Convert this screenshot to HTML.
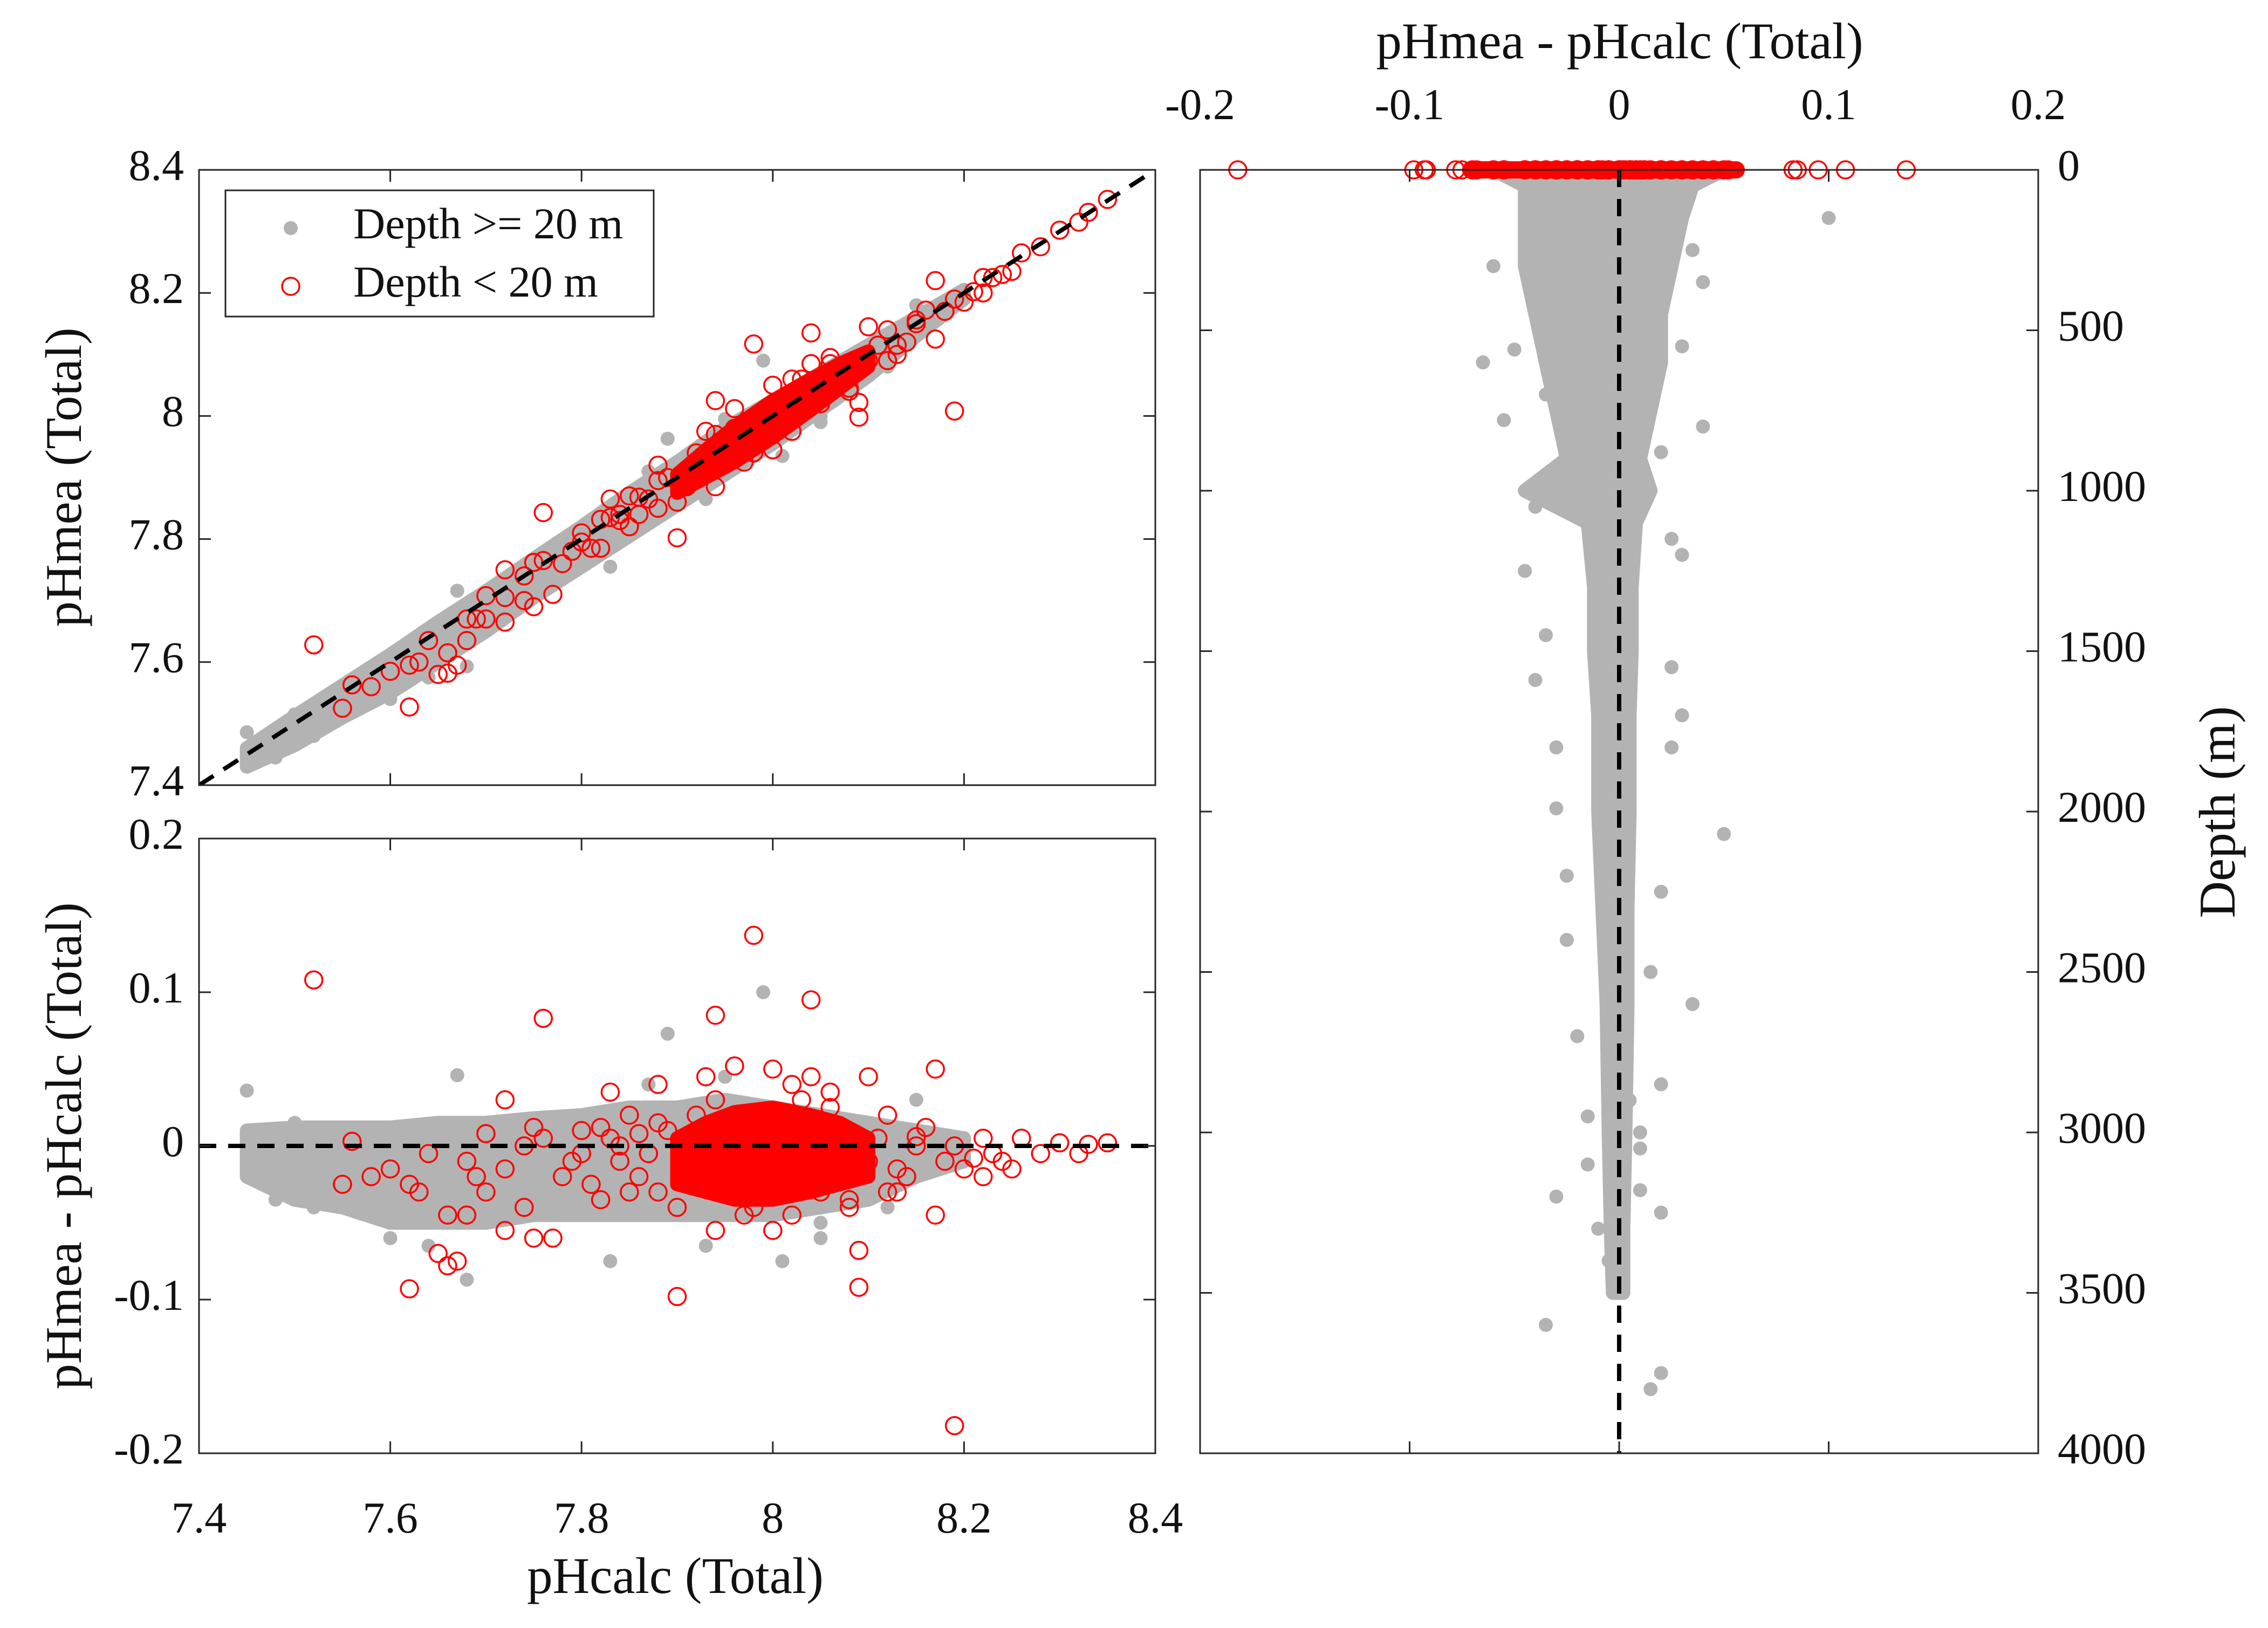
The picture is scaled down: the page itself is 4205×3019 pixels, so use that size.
<!DOCTYPE html>
<html><head><meta charset="utf-8">
<style>
html,body{margin:0;padding:0;background:#fff;}
svg{display:block;}
text{font-family:"Liberation Serif",serif;fill:#111;}
</style></head>
<body>
<svg id="chart" width="4205" height="3019" viewBox="0 0 4205 3019" xmlns="http://www.w3.org/2000/svg">
<rect width="4205" height="3019" fill="#fff"/>
<g id="plots"></g>
<g id="frames"></g>
</svg>
<script>
// ---- data ----
const grayCloudX = [7.45,7.5,7.55,7.6,7.65,7.7,7.75,7.8,7.85,7.9,7.95,8.0,8.05,8.1,8.15,8.2];
const grayCloudLo = [-0.02,-0.035,-0.04,-0.05,-0.05,-0.05,-0.045,-0.045,-0.045,-0.045,-0.045,-0.045,-0.04,-0.035,-0.02,-0.01];
const grayCloudHi = [0.01,0.012,0.012,0.012,0.015,0.015,0.018,0.02,0.025,0.025,0.03,0.025,0.02,0.015,0.01,0.005];
const redCoreX = [7.9,7.93,7.96,8.0,8.04,8.07,8.1];
const redCoreLo = [-0.025,-0.03,-0.035,-0.035,-0.03,-0.025,-0.02];
const redCoreHi = [0.005,0.015,0.022,0.025,0.02,0.015,0.005];
const grayCalc = [7.45,7.67,7.87,7.89,7.99,8.01,7.83,7.68,7.5,7.47,7.48,7.52,7.93,8.05,7.95,8.15,8.05,7.6,7.64,8.12];
const grayRes = [0.036,0.046,0.04,0.073,0.1,-0.075,-0.075,-0.087,0.015,-0.015,-0.035,-0.04,-0.065,-0.06,0.045,0.03,-0.05,-0.06,-0.065,-0.04];
const redCalc = [7.52,7.76,7.94,7.98,8.04,7.62,7.9,8.09,8.19,8.09,7.65,7.67,7.66,7.75,7.77,7.72,7.68,8.17,8.17,8.1,8.04,8.0,7.96,7.83,7.88,7.93,8.06,8.02,7.72,7.56,7.55,7.58,7.6,7.62,7.64,7.66,7.7,7.74,7.78,7.82,7.86,7.9,7.92,7.94,7.97,8.0,8.05,8.08,8.12,8.14,8.16,8.2,8.22,8.24,8.26,8.28,8.3,8.33,8.35,8.32,7.8,7.84,7.88,7.76,7.7,7.68,8.12,8.18,7.96,8.03,7.75,7.85,8.1,8.22,8.25,
  7.72,7.74,7.79,7.81,7.83,7.85,7.87,7.89,7.91,7.84,7.86,7.8,7.92,7.88,7.82,8.11,8.13,8.15,8.19,8.21,8.23,8.13,8.15,8.08,8.06,7.98,7.94,8.02,7.69,7.63];
const redRes = [0.108,0.083,0.085,0.137,0.095,-0.093,-0.098,-0.092,-0.182,-0.068,-0.07,-0.075,-0.078,-0.06,-0.06,-0.055,-0.045,-0.045,0.05,0.045,0.045,0.05,0.052,0.035,0.04,0.045,0.035,0.04,0.03,0.003,-0.025,-0.02,-0.015,-0.025,-0.005,-0.045,-0.03,-0.04,-0.02,-0.035,-0.02,-0.04,-0.015,-0.055,-0.045,-0.055,-0.03,-0.035,-0.03,-0.02,0.012,-0.015,0.005,-0.01,0.005,-0.005,0.002,0.001,0.002,-0.005,0.01,0.0,0.015,0.005,0.008,-0.01,0.02,-0.01,0.02,0.03,0.012,0.02,-0.01,-0.02,-0.015,
  -0.015,0.0,-0.01,-0.025,0.005,-0.03,-0.005,0.01,-0.025,-0.01,0.008,-0.005,0.02,-0.03,0.012,0.005,-0.015,0.0,0.0,-0.008,-0.005,-0.03,0.006,-0.04,0.025,-0.04,0.03,-0.045,-0.02,-0.03];
const depthCloud = [0,50,150,300,450,600,750,900,1000,1100,1300,1500,1700,2000,2300,2600,3000,3300,3500];
const depthLo = [-0.06,-0.045,-0.045,-0.045,-0.04,-0.035,-0.03,-0.025,-0.045,-0.015,-0.012,-0.012,-0.01,-0.01,-0.008,-0.006,-0.005,-0.004,-0.003];
const depthHi = [0.05,0.035,0.03,0.025,0.02,0.02,0.015,0.01,0.015,0.008,0.006,0.006,0.005,0.005,0.004,0.004,0.003,0.002,0.002];
const grayDepthRes = [0.1,-0.04,0.035,-0.06,0.04,0.04,-0.035,0.02,-0.055,-0.065,-0.05,0.03,-0.04,0.025,-0.045,0.03,-0.035,0.025,-0.04,0.03,-0.03,0.025,-0.03,0.05,-0.025,0.02,-0.025,0.015,0.035,-0.02,0.02,-0.015,0.01,-0.03,0.01,0.02,-0.01,-0.035,0.02,0.015,0,-0.005,0.01,-0.015,0.005];
const grayDepth = [150,200,250,300,350,800,700,880,780,600,560,550,1050,1150,1250,1200,1450,1550,1590,1700,1800,1800,1990,2070,2200,2250,2400,2500,2600,2700,2850,2950,3000,3200,3180,3250,3300,3600,3750,3800,3450,3400,3050,3100,2900];
const redSurfLo = [-0.075];
const redSurfHi = [0.06];
const ticksPH = [7.4,7.6,7.8,8,8.2,8.4];
const ticksRes = [-0.2,-0.1,0,0.1,0.2];
const ticksDepth = [0,500,1000,1500,2000,2500,3000,3500,4000];

// ---- axes ----
const L0=369, L1=2142, T0=315, T1=1456, B0=1555, B1=2695, R0=2225, R1=3779;
const xL = v => L0 + (v-7.4)/1.0*(L1-L0);
const yT = v => T1 - (v-7.4)/1.0*(T1-T0);
const yB = r => B1 - (r+0.2)/0.4*(B1-B0);
const xR = r => R0 + (r+0.2)/0.4*(R1-R0);
const yR = d => T0 + d/4000*(B1-T0);

const NS="http://www.w3.org/2000/svg";
const plots=document.getElementById('plots');
const frames=document.getElementById('frames');
function mk(tag,attrs,parent){const e=document.createElementNS(NS,tag);for(const k in attrs)e.setAttribute(k,attrs[k]);(parent||plots).appendChild(e);return e;}
const GR="#b3b3b3", RD="#ff0000";

const defs=mk('defs',{});
[['cT',L0,T0,L1-L0,T1-T0],['cB',L0,B0,L1-L0,B1-B0]].forEach(c=>{
  const cp=mk('clipPath',{id:c[0]},defs);mk('rect',{x:c[1],y:c[2],width:c[3],height:c[4]},cp);
});
const gT=mk('g',{'clip-path':'url(#cT)'});  
const gB=mk('g',{'clip-path':'url(#cB)'});  
const gR=mk('g',{});  

function envelope(xs,lo,hi,fx,fy,yfromx,color,g,name){
  let pts=[];
  for(let i=0;i<xs.length;i++)pts.push([fx(xs[i]),fy(yfromx(xs[i],hi[i]))]);
  for(let i=xs.length-1;i>=0;i--)pts.push([fx(xs[i]),fy(yfromx(xs[i],lo[i]))]);
  const p=mk('polygon',{points:pts.map(p=>p.join(',')).join(' '),fill:color,stroke:color,'stroke-width':26,'stroke-linejoin':'round'},g);
  
  
}
envelope(grayCloudX,grayCloudLo,grayCloudHi,xL,yT,(x,r)=>x+r,GR,gT,'gray-cloud-top');
envelope(grayCloudX,grayCloudLo,grayCloudHi,xL,yB,(x,r)=>r,GR,gB,'gray-cloud-residual');
for(let i=0;i<grayCalc.length;i++){
  const a=mk('circle',{cx:xL(grayCalc[i]),cy:yT(grayCalc[i]+grayRes[i]),r:13,fill:GR},gT);
   
  const b=mk('circle',{cx:xL(grayCalc[i]),cy:yB(grayRes[i]),r:13,fill:GR},gB);
   
}
(function(){
  let pts=[];
  for(let i=0;i<depthCloud.length;i++)pts.push([xR(depthHi[i]),yR(depthCloud[i])]);
  for(let i=depthCloud.length-1;i>=0;i--)pts.push([xR(depthLo[i]),yR(depthCloud[i])]);
  const p=mk('polygon',{points:pts.map(p=>p.join(',')).join(' '),fill:GR,stroke:GR,'stroke-width':26,'stroke-linejoin':'round'},gR);
   
})();
for(let i=0;i<grayDepth.length;i++){
  const c=mk('circle',{cx:xR(grayDepthRes[i]),cy:yR(grayDepth[i]),r:13,fill:GR},gR);
   
}
envelope(redCoreX,redCoreLo,redCoreHi,xL,yT,(x,r)=>x+r,RD,gT,'red-core-top');
envelope(redCoreX,redCoreLo,redCoreHi,xL,yB,(x,r)=>r,RD,gB,'red-core-residual');
for(let i=0;i<redCalc.length;i++){
  const a=mk('circle',{cx:xL(redCalc[i]),cy:yT(redCalc[i]+redRes[i]),r:16,fill:'none',stroke:RD,'stroke-width':3.5},gT);
   
  const b=mk('circle',{cx:xL(redCalc[i]),cy:yB(redRes[i]),r:16,fill:'none',stroke:RD,'stroke-width':3.5},gB);
   
}
const rs=mk('rect',{x:xR(redSurfLo[0]),y:yR(0)-16,width:xR(redSurfHi[0])-xR(redSurfLo[0]),height:32,fill:RD,rx:16},gR);
 
for(let i=0;i<redRes.length;i++){
  const c=mk('circle',{cx:xR(redRes[i]),cy:yR(0),r:16,fill:'none',stroke:RD,'stroke-width':3.5},gR);
   
}
const d1=mk('line',{x1:xL(7.4),y1:yT(7.4),x2:xL(8.4),y2:yT(8.4),stroke:'#000','stroke-width':8,'stroke-dasharray':'32 22'},gT);
 
const d2=mk('line',{x1:L0,y1:yB(0),x2:L1,y2:yB(0),stroke:'#000','stroke-width':8,'stroke-dasharray':'32 22'},gB);
 
const d3=mk('line',{x1:xR(0),y1:T0,x2:xR(0),y2:B1,stroke:'#000','stroke-width':8,'stroke-dasharray':'32 22'},gR);
 

function box(x0,y0,x1,y1,name){const r=mk('rect',{x:x0,y:y0,width:x1-x0,height:y1-y0,fill:'none',stroke:'#262626','stroke-width':3},frames);}
box(L0,T0,L1,T1,'top-axes-frame');box(L0,B0,L1,B1,'bottom-axes-frame');box(R0,T0,R1,B1,'right-axes-frame');
function ln(x1,y1,x2,y2){mk('line',{x1,y1,x2,y2,stroke:'#262626','stroke-width':3},frames);}
function txt(s,x,y,anchor,size,rot,name){const t=mk('text',{x,y,'text-anchor':anchor,'font-size':size,'dominant-baseline':'middle'},frames);if(rot)t.setAttribute('transform',`rotate(-90 ${x} ${y})`);t.textContent=s;return t;}
const TL=22, FS=82;
ticksPH.forEach(v=>{
  ln(xL(v),T1,xL(v),T1-TL);ln(xL(v),T0,xL(v),T0+TL);ln(xL(v),B1,xL(v),B1-TL);ln(xL(v),B0,xL(v),B0+TL);
  ln(L0,yT(v),L0+TL,yT(v));ln(L1,yT(v),L1-TL,yT(v));
  txt(String(v),L0-28,yT(v),'end',FS,false,'y-tick-label');
  txt(String(v),xL(v),2823,'middle',FS,false,'x-tick-label');
});
ticksRes.forEach(v=>{
  ln(L0,yB(v),L0+TL,yB(v));ln(L1,yB(v),L1-TL,yB(v));
  txt(String(v),L0-28,yB(v),'end',FS,false,'y-tick-label');
  ln(xR(v),T0,xR(v),T0+TL);ln(xR(v),B1,xR(v),B1-TL);
  txt(String(v),xR(v),202,'middle',FS,false,'top-x-tick-label');
});
ticksDepth.forEach(v=>{
  ln(R0,yR(v),R0+TL,yR(v));ln(R1,yR(v),R1-TL,yR(v));
  txt(String(v),3815,yR(v),'start',FS,false,'depth-tick-label');
});
txt('pHmea (Total)',128,885,'middle',95,true,'y-axis-title-top');
txt('pHmea - pHcalc (Total)',128,2125,'middle',95,true,'y-axis-title-bottom');
txt('pHcalc (Total)',1252,2932,'middle',95,false,'x-axis-title');
txt('pHmea - pHcalc (Total)',3003,86,'middle',95,false,'top-x-axis-title');
txt('Depth (m)',4121,1506,'middle',95,true,'depth-axis-title');
const lg=mk('g',{},frames);
mk('rect',{x:418,y:353,width:794,height:234,fill:'#fff',stroke:'#262626','stroke-width':3},lg);
const le1=mk('circle',{cx:539,cy:423,r:13,fill:GR},lg);
const le2=mk('circle',{cx:539,cy:531,r:16,fill:'none',stroke:RD,'stroke-width':3.5},lg);
const lt1=mk('text',{x:655,y:423,'font-size':82,'dominant-baseline':'middle'},lg);lt1.textContent='Depth >= 20 m';
const lt2=mk('text',{x:655,y:531,'font-size':82,'dominant-baseline':'middle'},lg);lt2.textContent='Depth < 20 m';
</script>
</body></html>
